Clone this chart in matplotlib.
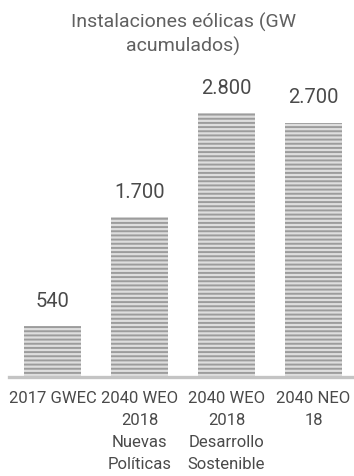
import matplotlib.pyplot as plt

plt.rcParams['font.family'] = ['Roboto', 'DejaVu Sans']
plt.rcParams['hatch.linewidth'] = 1.4

categorias = ["2017 GWEC", "2040 WEO\n2018\nNuevas\nPolíticas",
              "2040 WEO\n2018\nDesarrollo\nSostenible", "2040 NEO\n18"]
valores = [540, 1700, 2800, 2700]
etiquetas = ["540", "1.700", "2.800", "2.700"]
titulo = "Instalaciones eólicas (GW\nacumulados)"

fig = plt.figure(figsize=(3.54, 4.76), dpi=100)
ax = fig.add_axes([0.0254, 0.208, 0.983, 0.792])

x = range(len(valores))
ax.bar(x, valores, width=0.655, color="#dedede", edgecolor="#9c9c9c",
       linewidth=0, hatch="----")
ax.axhline(0, color="#c4c4c4", linewidth=2.4, clip_on=False)

for xi, v, t in zip(x, valores, etiquetas):
    ax.text(xi, v + 160, t, ha="center", va="bottom", fontsize=14.5,
            color="#4a4a4a")

ax.set_xlim(-0.5, 3.5)
ax.set_ylim(0, 4000)
ax.set_xticks(list(x))
ax.set_xticklabels(categorias, fontsize=12, color="#4a4a4a",
                   linespacing=1.6)
ax.tick_params(axis="x", length=0, pad=10)
ax.set_yticks([])
for s in ax.spines.values():
    s.set_visible(False)

fig.text(0.517, 0.9275, titulo, ha="center", va="center", fontsize=14,
         color="#606060", linespacing=1.3)

fig.savefig("out.png", dpi=100)
